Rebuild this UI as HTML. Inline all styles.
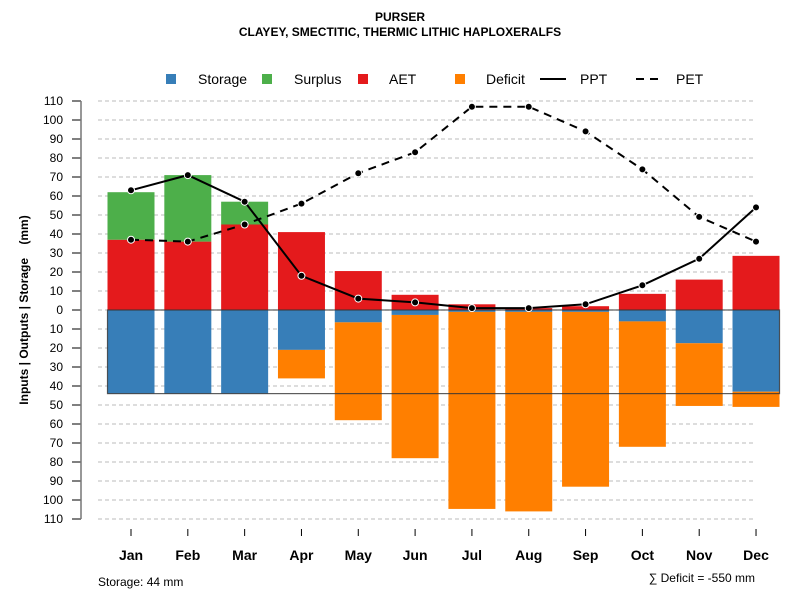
<!DOCTYPE html>
<html><head><meta charset="utf-8"><style>
body{margin:0;background:#fff;}
svg{display:block;font-family:"Liberation Sans",Arial,sans-serif;}
</style></head><body>
<svg id="chart" width="800" height="600" viewBox="0 0 800 600">
<text x="400" y="21" text-anchor="middle" font-size="12" font-weight="bold">PURSER</text>
<text x="400" y="36" text-anchor="middle" font-size="12" font-weight="bold">CLAYEY, SMECTITIC, THERMIC LITHIC HAPLOXERALFS</text>
<g>
 <g><rect x="166" y="74" width="10" height="10" fill="#377eb8"/><text x="198" y="84" font-size="14">Storage</text></g>
 <g><rect x="262" y="74" width="10" height="10" fill="#4daf4a"/><text x="294" y="84" font-size="14">Surplus</text></g>
 <g><rect x="358" y="74" width="10" height="10" fill="#e41a1c"/><text x="389" y="84" font-size="14">AET</text></g>
 <g><rect x="455" y="74" width="10" height="10" fill="#ff7f00"/><text x="486" y="84" font-size="14">Deficit</text></g>
 <g><line x1="540" y1="79" x2="566" y2="79" stroke="#000" stroke-width="2"/><text x="580" y="84" font-size="14">PPT</text></g>
 <g><line x1="636" y1="79" x2="662" y2="79" stroke="#000" stroke-width="2" stroke-dasharray="8,6"/><text x="676" y="84" font-size="14">PET</text></g>
</g>
<text transform="translate(28,310) rotate(-90)" text-anchor="middle" font-size="12" font-weight="bold">Inputs | Outputs | Storage &#160;&#160;&#160;(mm)</text>
<g id="grid"></g><g id="bars"></g><g id="lines"></g><g id="axes"></g>
<text x="98" y="586" font-size="12">Storage: 44 mm</text>
<text x="755" y="582" text-anchor="end" font-size="12">∑ Deficit = -550 mm</text>
</svg>
<script>
const months=["Jan","Feb","Mar","Apr","May","Jun","Jul","Aug","Sep","Oct","Nov","Dec"];
const aet=[37,36,45,41,20.5,8,3,1,2,8.5,16,28.5];
const surplus=[25,35,12,0,0,0,0,0,0,0,0,0];
const storageUse=[44,44,44,21,6.5,2.6,1,1,1,6,17.5,43];
const deficit=[0,0,0,15,51.5,75.4,103.7,105,92,66,33,8];
const ppt=[63,71,57,18,6,4,1,1,3,13,27,54];
const pet=[37,36,45,56,72,83,107,107,94,74,49,36];
const storageMax=44;
const yTicks=[110,100,90,80,70,60,50,40,30,20,10,0,-10,-20,-30,-40,-50,-60,-70,-80,-90,-100,-110];
const NS="http://www.w3.org/2000/svg";
const y=v=>310-v*1.9;
const x=i=>131+i*56.82;
const bw=47;
function mk(tag,attrs,parent){const e=document.createElementNS(NS,tag);for(const k in attrs)e.setAttribute(k,attrs[k]);document.getElementById(parent).appendChild(e);return e;}
yTicks.forEach(t=>{
 let g=mk("line",{x1:98,x2:756,y1:y(t),y2:y(t),stroke:"#bbb","stroke-dasharray":"4,3"},"grid");
 
 
 let tk=mk("line",{x1:72,x2:81,y1:y(t),y2:y(t),stroke:"#000"},"axes");
 
 
 let tl=mk("text",{x:63,y:y(t)+4,"text-anchor":"end","font-size":12},"axes");
 tl.textContent=Math.abs(t);
 
 
});
let ax=mk("line",{x1:81,x2:81,y1:y(110),y2:y(-110),stroke:"#777","stroke-width":1.5},"axes");


months.forEach((m,i)=>{
 const cx=x(i),l=cx-bw/2;
 let r=mk("rect",{x:l,y:y(aet[i]),width:bw,height:aet[i]*1.9,fill:"#e41a1c"},"bars");
 
 
 if(surplus[i]>0){let s=mk("rect",{x:l,y:y(aet[i]+surplus[i]),width:bw,height:surplus[i]*1.9,fill:"#4daf4a"},"bars");
 
 }
 let st=mk("rect",{x:l,y:y(0),width:bw,height:storageUse[i]*1.9,fill:"#377eb8"},"bars");
 
 
 if(deficit[i]>0){let d=mk("rect",{x:l,y:y(-storageUse[i]),width:bw,height:deficit[i]*1.9,fill:"#ff7f00"},"bars");
 
 }
 let t=mk("line",{x1:cx,x2:cx,y1:529,y2:536,stroke:"#000"},"axes");
 
 
 let lb=mk("text",{x:cx,y:560,"text-anchor":"middle","font-size":14,"font-weight":"bold"},"axes");
 lb.textContent=m;
 
 
});
let box=mk("rect",{x:x(0)-bw/2,y:y(0),width:x(11)-x(0)+bw,height:storageMax*1.9,fill:"none",stroke:"#333","stroke-width":1.2,"stroke-opacity":0.8},"bars");


function series(vals,name,dash){
 let p=mk("polyline",{points:vals.map((v,i)=>x(i)+","+y(v)).join(" "),fill:"none",stroke:"#000","stroke-width":2,"stroke-dasharray":dash},"lines");
 
 
 vals.forEach((v,i)=>{let c=mk("circle",{cx:x(i),cy:y(v),r:3.5,fill:"#000",stroke:"#fff","stroke-width":1},"lines");
 
 });
}
series(ppt,"ppt","none");
series(pet,"pet","8,6");
</script>
</body></html>
